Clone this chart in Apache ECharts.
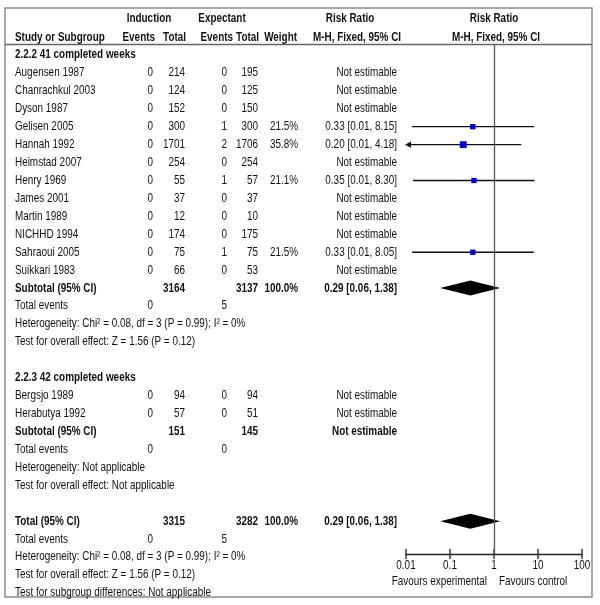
<!DOCTYPE html>
<html><head><meta charset="utf-8">
<script src="https://cdn.jsdelivr.net/npm/echarts@6/dist/echarts.min.js"></script>
<style>html,body{margin:0;padding:0;background:#fff}#c{width:600px;height:605px}</style>
</head><body><div id="c"></div>
<script>
const FONT_FAMILY = '"Liberation Sans",Arial,sans-serif';

// ---- Subgroup 2.2.2 : 41 completed weeks ----
const group41 = '2.2.2 41 completed weeks';
const studies41 = ['Augensen 1987','Chanrachkul 2003','Dyson 1987','Gelisen 2005','Hannah 1992','Heimstad 2007','Henry 1969','James 2001','Martin 1989','NICHHD 1994','Sahraoui 2005','Suikkari 1983'];
const indEvents41 = [0,0,0,0,0,0,0,0,0,0,0,0];
const indTotal41  = [214,124,152,300,1701,254,55,37,12,174,75,66];
const expEvents41 = [0,0,0,1,2,0,1,0,0,0,1,0];
const expTotal41  = [195,125,150,300,1706,254,57,37,10,175,75,53];
const weight41    = [null,null,null,21.5,35.8,null,21.1,null,null,null,21.5,null];
const rr41        = [null,null,null,0.33,0.20,null,0.35,null,null,null,0.33,null];
const ciLow41     = [null,null,null,0.0136,0.0096,null,0.0144,null,null,null,0.0138,null];
const ciHigh41    = [null,null,null,8.15,4.18,null,8.30,null,null,null,8.05,null];
const subTotals41 = [3164,3137];
const subWeight41 = 100.0;
const subRR41     = [0.29,0.06,1.38];
const events41    = [0,5];
const het41  = 'Heterogeneity: Chi² = 0.08, df = 3 (P = 0.99); I² = 0%';
const test41 = 'Test for overall effect: Z = 1.56 (P = 0.12)';

// ---- Subgroup 2.2.3 : 42 completed weeks ----
const group42 = '2.2.3 42 completed weeks';
const studies42 = ['Bergsjo 1989','Herabutya 1992'];
const indEvents42 = [0,0];
const indTotal42  = [94,57];
const expEvents42 = [0,0];
const expTotal42  = [94,51];
const subTotals42 = [151,145];
const events42    = [0,0];
const het42  = 'Heterogeneity: Not applicable';
const test42 = 'Test for overall effect: Not applicable';

// ---- Overall ----
const totals     = [3315,3282];
const totWeight  = 100.0;
const totRR      = [0.29,0.06,1.38];
const totEvents  = [0,5];
const hetAll  = 'Heterogeneity: Chi² = 0.08, df = 3 (P = 0.99); I² = 0%';
const testAll = 'Test for overall effect: Z = 1.56 (P = 0.12)';
const testSub = 'Test for subgroup differences: Not applicable';

// axis
const axisTicks = [0.01,0.1,1,10,100];
const axisTickLabels = ['0.01','0.1','1','10','100'];
const favLeft = 'Favours experimental';
const favRight = 'Favours control';

// ---------------- build rows ----------------
const fmtRR = (r,l,h) => r.toFixed(2) + ' [' + l.toFixed(2) + ', ' + h.toFixed(2) + ']';
const rows = [];
const forest = []; // [rr, row, lo, hi, weight, kind]
let r = 0;
rows.push({y:r++, label:group41, bold:true});
studies41.forEach((s,i) => {
  const est = rr41[i] != null;
  rows.push({y:r, label:s, c:[indEvents41[i],indTotal41[i],expEvents41[i],expTotal41[i], weight41[i]!=null? weight41[i].toFixed(1)+'%':''],
    rr: est ? fmtRR(rr41[i],ciLow41[i],ciHigh41[i]) : 'Not estimable'});
  if (est) forest.push([rr41[i], r, ciLow41[i], ciHigh41[i], weight41[i], 0]);
  r++;
});
rows.push({y:r, label:'Subtotal (95% CI)', bold:true, c:['',subTotals41[0],'',subTotals41[1],subWeight41.toFixed(1)+'%'], rr:fmtRR(subRR41[0],subRR41[1],subRR41[2])});
forest.push([subRR41[0], r, subRR41[1], subRR41[2], subWeight41, 1]); r++;
rows.push({y:r++, label:'Total events', c:[events41[0],'',events41[1],'','']});
rows.push({y:r++, label:het41});
rows.push({y:r++, label:test41});
r++;
rows.push({y:r++, label:group42, bold:true});
studies42.forEach((s,i) => {
  rows.push({y:r++, label:s, c:[indEvents42[i],indTotal42[i],expEvents42[i],expTotal42[i],''], rr:'Not estimable'});
});
rows.push({y:r++, label:'Subtotal (95% CI)', bold:true, c:['',subTotals42[0],'',subTotals42[1],''], rr:'Not estimable'});
rows.push({y:r++, label:'Total events', c:[events42[0],'',events42[1],'','']});
rows.push({y:r++, label:het42});
rows.push({y:r++, label:test42});
r++;
rows.push({y:r, label:'Total (95% CI)', bold:true, c:['',totals[0],'',totals[1],totWeight.toFixed(1)+'%'], rr:fmtRR(totRR[0],totRR[1],totRR[2])});
forest.push([totRR[0], r, totRR[1], totRR[2], totWeight, 1]); r++;
rows.push({y:r++, label:'Total events', c:[totEvents[0],'',totEvents[1],'','']});
rows.push({y:r++, label:hetAll});
rows.push({y:r++, label:testAll});
rows.push({y:r++, label:testSub});

// ---------------- layout ----------------
const FS = 12.4;
const SX = 0.8; // horizontal condensing (narrow typeface look)
const font = (b) => (b ? 'bold ' : '') + FS + 'px ' + FONT_FAMILY;
const TXT = '#111';
const colX = [153,185,227,258,298];
const rrX = 397;
const labelX = 15;
const Y_MIN = -0.6135, Y_MAX = 27.83;
const txt = (text, x, y, align, bold) => ({type:'text', silent:true, x:x, y:y, scaleX:SX, scaleY:1,
  style:{text:String(text), x:0, y:0, align:align, verticalAlign:'middle', font:font(bold), fill:TXT}});

const chart = echarts.init(document.getElementById('c'), null, {renderer:'canvas'});

const option = {
  animation:false,
  backgroundColor:'#fff',
  grid:{left:406, right:18, top:44, bottom:51},
  xAxis:{
    type:'log', logBase:10, min:axisTicks[0], max:axisTicks[axisTicks.length-1], position:'bottom',
    axisLine:{show:true, onZero:false, lineStyle:{color:'#222', width:1.3}},
    axisTick:{show:false},
    axisLabel:{show:false},
    splitLine:{show:false}
  },
  yAxis:{type:'value', inverse:true, min:Y_MIN, max:Y_MAX, show:false},
  series:[{
    // forest marks: CI lines, squares, diamonds
    type:'custom', clip:false, silent:true,
    data: forest,
    encode:{x:0, y:1},
    renderItem:(params, api) => {
      const rrv=api.value(0), y=api.value(1), lo=api.value(2), hi=api.value(3), w=api.value(4), kind=api.value(5);
      const c = api.coord([rrv,y]);
      const cl = api.coord([Math.max(lo,axisTicks[0]), y]);
      const ch = api.coord([Math.min(hi,axisTicks[axisTicks.length-1]), y]);
      if (kind === 1) {
        const h = 7.5;
        return {type:'polygon', shape:{points:[[cl[0],c[1]],[c[0],c[1]-h],[ch[0],c[1]],[c[0],c[1]+h]]}, style:{fill:'#000'}};
      }
      const s = 1.15*Math.sqrt(w);
      const kids = [];
      kids.push({type:'line', shape:{x1:cl[0], y1:c[1], x2:ch[0], y2:c[1]}, style:{stroke:'#111', lineWidth:1.3}});
      if (lo < axisTicks[0]) kids.push({type:'polygon', shape:{points:[[cl[0]-1,c[1]],[cl[0]+5,c[1]-3.2],[cl[0]+5,c[1]+3.2]]}, style:{fill:'#111'}});
      kids.push({type:'rect', shape:{x:c[0]-s/2, y:c[1]-s/2, width:s, height:s}, style:{fill:'#0000CC'}});
      return {type:'group', children:kids};
    },
    markLine:{silent:true, symbol:['none','none'], label:{show:false},
      lineStyle:{color:'#555', width:1.3, type:'solid'}, data:[{xAxis:1}]}
  },{
    // axis ticks crossing the axis line, with their labels
    type:'custom', clip:false, silent:true,
    data: axisTicks.map(t => [t, Y_MAX]),
    encode:{x:0, y:1},
    renderItem:(params, api) => {
      const p = api.coord([api.value(0), api.value(1)]);
      return {type:'group', children:[
        {type:'line', shape:{x1:p[0], y1:p[1]-5, x2:p[0], y2:p[1]+5}, style:{stroke:'#222', lineWidth:1.3}},
        txt(axisTickLabels[params.dataIndex], p[0], p[1]+12, 'center', false)
      ]};
    }
  },{
    // table text
    type:'custom', clip:false, silent:true,
    data: rows.map(o => [1, o.y]),
    encode:{x:0, y:1},
    renderItem:(params, api) => {
      const o = rows[params.dataIndex];
      const y = api.coord([1, api.value(1)])[1];
      const kids = [txt(o.label, labelX, y, 'left', o.bold)];
      if (o.c) o.c.forEach((v,k)=>{
        if (v === '' || v == null) return;
        const bold = o.bold && (k===1 || k===3 || k===4);
        kids.push(txt(v, colX[k], y, 'right', bold));
      });
      if (o.rr) kids.push(txt(o.rr, rrX, y, 'right', o.bold));
      return {type:'group', children:kids};
    }
  }]
};
chart.setOption(option);

const x1 = chart.convertToPixel({xAxisIndex:0}, 1);
const graphics = [
  {type:'rect', silent:true, shape:{x:5, y:8, width:587, height:589}, style:{fill:null, stroke:'#8c8c8c', lineWidth:1.5}},
  {type:'line', silent:true, shape:{x1:5, y1:44.5, x2:592, y2:44.5}, style:{stroke:'#666', lineWidth:1.3}},
  txt('Induction', 149, 19, 'center', true),
  txt('Expectant', 222, 19, 'center', true),
  txt('Risk Ratio', 350, 19, 'center', true),
  txt('Risk Ratio', x1, 19, 'center', true),
  txt('Study or Subgroup', labelX, 38, 'left', true),
  txt('Events', 155, 38, 'right', true),
  txt('Total', 186, 38, 'right', true),
  txt('Events', 233, 38, 'right', true),
  txt('Total', 259, 38, 'right', true),
  txt('Weight', 297, 38, 'right', true),
  txt('M-H, Fixed, 95% CI', 357, 38, 'center', true),
  txt('M-H, Fixed, 95% CI', x1+2, 38, 'center', true),
  txt(favLeft, x1-7, 582, 'right', false),
  txt(favRight, x1+5, 582, 'left', false)
];
chart.setOption({graphic:graphics});
</script></body></html>
